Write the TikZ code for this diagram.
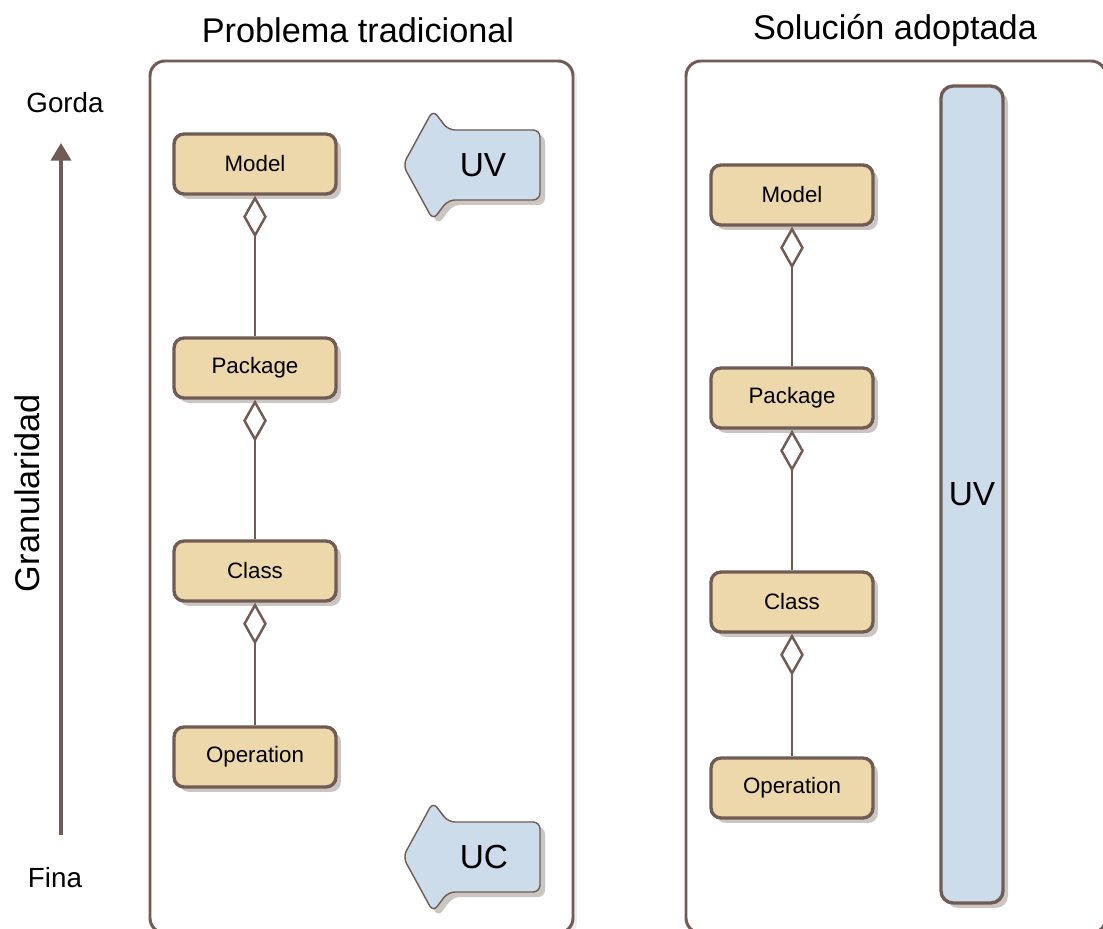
\documentclass[tikz,border=0pt]{standalone}
\usepackage{fontspec}
\setmainfont{Liberation Sans}
\usetikzlibrary{arrows.meta,shadows}
\definecolor{boxTan}{RGB}{236,216,170}
\definecolor{boxEdge}{RGB}{112,92,84}
\definecolor{unitBlue}{RGB}{205,220,234}
\definecolor{shadowGray}{RGB}{204,198,194}
\definecolor{frameShadow}{RGB}{236,236,236}

\tikzset{
  pics/unitarrow/.style={code={
      \fill[shadowGray, rounded corners=0.14cm, shift={(5,5)}]
        (69,-35) -- (-23,-35) -- (-38,-55) -- (-68,0) -- (-38,55) -- (-23,35) -- (69,35) -- cycle;
      \draw[boxEdge, fill=unitBlue, line width=0.8pt, rounded corners=0.14cm]
        (69,-35) -- (-23,-35) -- (-38,-55) -- (-68,0) -- (-38,55) -- (-23,35) -- (69,35) -- cycle;
  }}
}

\begin{document}
\begin{tikzpicture}[x=0.02cm,y=-0.02cm,
    elem/.style={draw=boxEdge, line width=1.9pt, fill=boxTan, rounded corners=0.2cm,
      minimum width=3.24cm, minimum height=1.2cm, font=\fontsize{12.7}{15}\selectfont,
      drop shadow={shadow xshift=0.1cm, shadow yshift=-0.1cm, fill=shadowGray, opacity=1}},
    aggr/.style={draw=boxEdge, line width=1.4pt,
      -{Diamond[open, length=24pt, width=13.5pt, fill=white]}},
    frame/.style={draw=boxEdge, line width=1.7pt, fill=white, rounded corners=0.3cm},
    unitbar/.style={draw=boxEdge, line width=1.9pt, fill=unitBlue, rounded corners=0.24cm,
      minimum width=1.24cm, minimum height=16.34cm, font=\fontsize{19}{22}\selectfont,
      drop shadow={shadow xshift=0.1cm, shadow yshift=-0.1cm, fill=shadowGray, opacity=1}},
    title/.style={font=\fontsize{19.5}{23}\selectfont},
    level/.style={font=\fontsize{15.8}{19}\selectfont},
    unitlabel/.style={font=\fontsize{19}{22}\selectfont}
  ]
  \useasboundingbox (0,0) rectangle (1103,929);
  \clip (0,0) rectangle (1103,929);

  % titles
  \node[title] (leftTitle) at (358,30) {Problema tradicional};
  \node[title] (rightTitle) at (895,30) {Solución adoptada};

  % granularity axis
  \coordinate (fineEnd) at (61,835);
  \coordinate (coarseEnd) at (61,143);
  \draw[boxEdge, line width=1.8pt, -{Triangle[length=10pt, width=11.5pt]}] (fineEnd) -- (coarseEnd);
  \node[level] (gorda) at (65,103) {Gorda};
  \node[level] (fina) at (55,878) {Fina};
  \node[title, rotate=90] (granularidad) at (27,493) {Granularidad};

  % frames
  \fill[frameShadow, rounded corners=0.3cm] (154,65) rectangle (577,937);
  \draw[frame] (150,61) rectangle (573,933);
  \fill[frameShadow, rounded corners=0.3cm] (690,65) rectangle (1110,937);
  \draw[frame] (686,61) rectangle (1106,933);

  % traditional problem
  \node[elem] (lModel) at (255,164) {Model};
  \node[elem] (lPackage) at (255,368) {Package};
  \node[elem] (lClass) at (255,571) {Class};
  \node[elem] (lOperation) at (255,757) {Operation};
  \draw[aggr] (lPackage.north) -- (lModel.south);
  \draw[aggr] (lClass.north) -- (lPackage.south);
  \draw[aggr] (lOperation.north) -- (lClass.south);

  \pic at (471,165) {unitarrow};
  \node[unitlabel] (uvArrow) at (483,165) {UV};
  \pic at (471,857) {unitarrow};
  \node[unitlabel] (ucArrow) at (484,857) {UC};

  % adopted solution
  \node[elem] (rModel) at (792,195) {Model};
  \node[elem] (rPackage) at (792,398) {Package};
  \node[elem] (rClass) at (792,602) {Class};
  \node[elem] (rOperation) at (792,788) {Operation};
  \draw[aggr] (rPackage.north) -- (rModel.south);
  \draw[aggr] (rClass.north) -- (rPackage.south);
  \draw[aggr] (rOperation.north) -- (rClass.south);

  \node[unitbar] (uvBar) at (972,494.5) {UV};
\end{tikzpicture}
\end{document}
